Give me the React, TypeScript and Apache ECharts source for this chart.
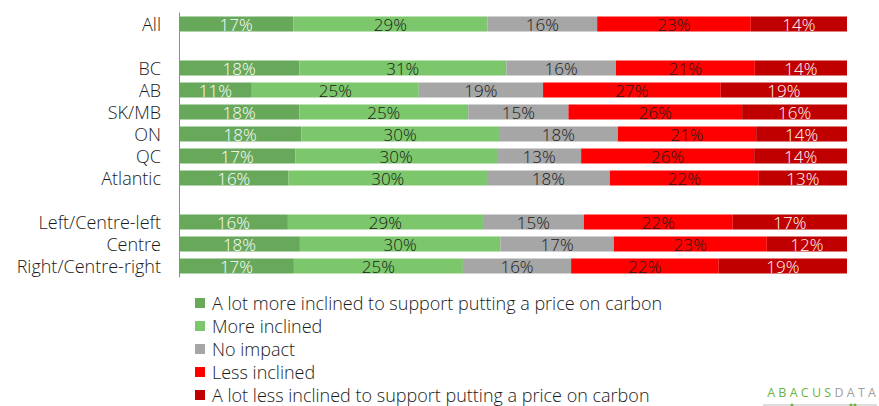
import React, { useEffect, useRef } from "react";
import * as echarts from "echarts";

const categories = ["All", "", "BC", "AB", "SK/MB", "ON", "QC", "Atlantic", "", "Left/Centre-left", "Centre", "Right/Centre-right"];
const seriesNames = [
  "A lot more inclined to support putting a price on carbon",
  "More inclined",
  "No impact",
  "Less inclined",
  "A lot less inclined to support putting a price on carbon",
];
const aLotMore = [17.1, null, 18.0, 10.9, 18.0, 18.3, 17.4, 16.4, null, 16.3, 18.1, 17.2];
const more = [29.1, null, 31.0, 25.0, 25.3, 29.6, 30.2, 29.7, null, 29.2, 30.0, 25.3];
const noImpact = [16.4, null, 16.4, 18.6, 15.0, 17.8, 12.6, 18.4, null, 15.1, 17.0, 16.2];
const less = [23.0, null, 20.8, 26.6, 26.0, 20.7, 25.9, 22.3, null, 22.3, 22.9, 22.1];
const aLotLess = [14.4, null, 13.8, 18.9, 15.7, 13.6, 13.9, 13.2, null, 17.1, 12.0, 19.2];
const colors = ["#68A85B", "#7CC76B", "#A6A6A6", "#FF0000", "#C00000"];
const labelColors = ["#ffffff", "#1a1a1a", "#1a1a1a", "#1a1a1a", "#ffffff"];

const FONT = "Open Sans";

export default function App() {
  const ref = useRef<HTMLDivElement>(null);
  useEffect(() => {
    if (!ref.current) return;
    const chart = echarts.init(ref.current, undefined, { renderer: "svg" });
    const data = [aLotMore, more, noImpact, less, aLotLess];
    chart.setOption({
      animation: false,
      textStyle: { fontFamily: FONT },
      grid: { left: 179, right: 32, top: 13, height: 264 },
      xAxis: { type: "value", min: 0, max: 100, show: false },
      yAxis: {
        type: "category",
        data: categories,
        inverse: true,
        axisLine: { show: true, lineStyle: { color: "#8c8c8c", width: 1 } },
        axisTick: { show: false },
        axisLabel: { interval: 0, color: "#1a1a1a", fontSize: 18, fontFamily: FONT, fontWeight: 300, margin: 18 },
      },
      legend: {
        orient: "vertical",
        left: 195,
        top: 294,
        height: 112,
        itemWidth: 10,
        itemHeight: 10,
        itemGap: 5,
        icon: "rect",
        padding: 0,
        textStyle: { fontSize: 18, lineHeight: 17, color: "#1a1a1a", fontFamily: FONT, fontWeight: 300, padding: [0, 0, 0, 2] },
        data: seriesNames,
      },
      series: seriesNames.map((name, i) => ({
        name,
        type: "bar",
        stack: "total",
        barWidth: "68%",
        itemStyle: { color: colors[i] },
        label: {
          show: true,
          position: "inside",
          color: labelColors[i],
          fontSize: 17,
          fontFamily: FONT,
          fontWeight: 300,
          formatter: (p: any) => (p.value == null ? "" : Math.round(p.value) + "%"),
        },
        data: data[i],
      })),
      graphic: [
        {
          type: "text",
          right: 3,
          top: 386,
          style: {
            text: "{a|A B A C U S} {b|D A T A}",
            rich: {
              a: { fill: "#6DB33F", fontSize: 12.5, fontFamily: FONT },
              b: { fill: "#A0A0A0", fontSize: 12.5, fontFamily: FONT },
            },
          },
        },
        { type: "line", shape: { x1: 763, y1: 405, x2: 877, y2: 405 }, style: { stroke: "#BBBBBB", lineWidth: 1 } },
        { type: "circle", shape: { cx: 792, cy: 405, r: 1.5 }, style: { fill: "#6DB33F" } },
        { type: "circle", shape: { cx: 851, cy: 405, r: 1.5 }, style: { fill: "#6DB33F" } },
        { type: "circle", shape: { cx: 855, cy: 405, r: 1.5 }, style: { fill: "#6DB33F" } },
      ],
    });
    return () => chart.dispose();
  }, []);
  return <div ref={ref} style={{ width: 879, height: 406, position: "absolute", left: 0, top: 0 }} />;
}
